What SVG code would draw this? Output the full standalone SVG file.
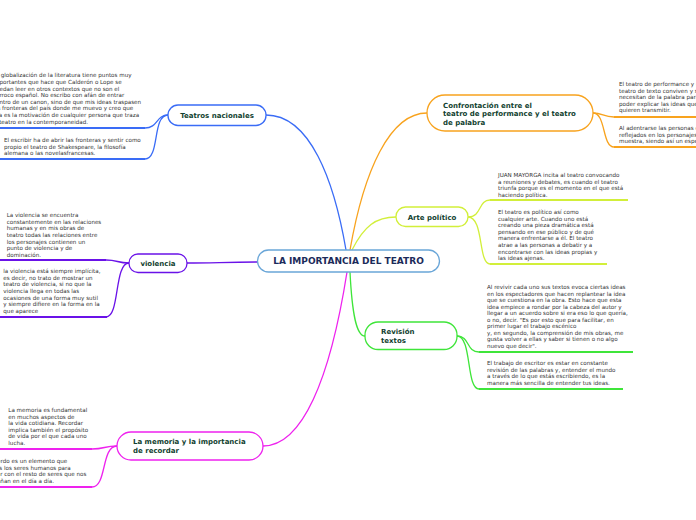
<svg xmlns="http://www.w3.org/2000/svg" width="696" height="520" viewBox="0 0 696 520">
<style>
.bg{fill:#ffffff}
.node{fill:#ffffff;stroke-width:1.3}
.lbl{font-family:"DejaVu Sans",Verdana,sans-serif;font-weight:bold;font-size:7px;fill:#123f30}
.main{font-family:"DejaVu Sans",Verdana,sans-serif;font-weight:bold;font-size:9px;fill:#1c2b5a}
.body{font-family:"DejaVu Sans",Verdana,sans-serif;font-size:5.6px;fill:#333333}
.con{fill:none;stroke-width:1.3}
.ul{fill:none;stroke-width:1.8}
.blue{stroke:#3a6cf6}
.orange{stroke:#f8a31e}
.lime{stroke:#d2ef3a}
.green{stroke:#3fe53a}
.purple{stroke:#6a12e8}
.magenta{stroke:#ee22ee}
</style>
<rect class="bg" x="0" y="0" width="696" height="520"/>

<g id="connectors">
  <path class="con blue" d="M346,250 C334,180 310,115 266,115"/>
  <path class="con orange" d="M350,250 C364,170 390,113 427,113"/>
  <path class="con lime" d="M352,250 C364,226 376,217 396,217"/>
  <path class="con purple" d="M258,262 C226,262 214,263 187,263"/>
  <path class="con green" d="M350,272 C352,312 356,336 365,336"/>
  <path class="con magenta" d="M347,272 C330,380 302,446 263,446"/>

  <path class="con blue" d="M168,115 C156,115 158,128 145,128"/>
  <path class="con blue" d="M168,115 C152,115 160,159 145,159"/>
  <path class="ul blue" d="M0,128 H145"/>
  <path class="ul blue" d="M0,159 H145"/>

  <path class="con orange" d="M593,113 C603,113 603,117 614,117"/>
  <path class="con orange" d="M593,113 C606,113 602,147 614,147"/>
  <path class="ul orange" d="M614,117 H696"/>
  <path class="ul orange" d="M614,147 H696"/>

  <path class="con lime" d="M468,217 C482,217 478,200 490,200"/>
  <path class="con lime" d="M468,217 C484,217 478,264 490,264"/>
  <path class="ul lime" d="M490,200 H628"/>
  <path class="ul lime" d="M490,264 H607"/>

  <path class="con green" d="M457,336 C470,336 466,352 479,352"/>
  <path class="con green" d="M457,336 C472,336 466,389 479,389"/>
  <path class="ul green" d="M479,352 H633"/>
  <path class="ul green" d="M479,389 H623"/>

  <path class="con purple" d="M129,263 C117,263 118,260 106,260"/>
  <path class="con purple" d="M129,263 C114,263 120,317 106,317"/>
  <path class="ul purple" d="M0,260 H106"/>
  <path class="ul purple" d="M0,317 H107"/>

  <path class="con magenta" d="M117,446 C104,446 105,449 92,449"/>
  <path class="con magenta" d="M117,446 C101,446 107,487 92,487"/>
  <path class="ul magenta" d="M0,449 H92"/>
  <path class="ul magenta" d="M0,487 H92"/>
</g>

<g id="center">
  <rect class="node" x="257.5" y="250" width="182" height="22" rx="11" stroke="#6aa6d8"/>
  <text class="main" x="348.5" y="264.3" text-anchor="middle">LA IMPORTANCIA DEL TEATRO</text>
</g>

<g id="teatros-nacionales">
  <rect class="node blue" x="168" y="105" width="98" height="20.5" rx="10"/>
  <text class="lbl" x="217" y="118" text-anchor="middle">Teatros nacionales</text>
</g>

<g id="teatros-text-1">
  <text class="body" x="-7.6">
    <tspan x="-7.6" y="77.3">La globalización de la literatura tiene puntos muy</tspan>
    <tspan x="-7.6" y="83.9">importantes que hace que Calderón o Lope se</tspan>
    <tspan x="-7.6" y="90.5">puedan leer en otros contextos que no son el</tspan>
    <tspan x="-7.6" y="97.1">barroco español. No escribo con afán de entrar</tspan>
    <tspan x="-7.6" y="103.7">dentro de un canon, sino de que mis ideas traspasen</tspan>
    <tspan x="-7.6" y="110.3">las fronteras del país donde me muevo y creo que</tspan>
    <tspan x="-7.6" y="116.9">esa es la motivación de cualquier persona que traza</tspan>
    <tspan x="-7.6" y="123.5">el teatro en la contemporaneidad.</tspan>
  </text>
</g>

<g id="teatros-text-2">
  <text class="body">
    <tspan x="4" y="142">El escribir ha de abrir las fronteras y sentir como</tspan>
    <tspan x="4" y="148.6">propio el teatro de Shakespeare, la filosofía</tspan>
    <tspan x="4" y="155.2">alemana o las novelasfrancesas.</tspan>
  </text>
</g>

<g id="confrontacion">
  <rect class="node orange" x="427" y="95" width="166" height="36" rx="18"/>
  <text class="lbl">
    <tspan x="443" y="107.5">Confrontación entre el</tspan>
    <tspan x="443" y="116">teatro de performance y el teatro</tspan>
    <tspan x="443" y="124.5">de palabra</tspan>
  </text>
</g>

<g id="confrontacion-text-1">
  <text class="body">
    <tspan x="619" y="86">El teatro de performance y el</tspan>
    <tspan x="619" y="92.6">teatro de texto conviven y se</tspan>
    <tspan x="619" y="99.2">necesitan de la palabra para</tspan>
    <tspan x="619" y="105.8">poder explicar las ideas que</tspan>
    <tspan x="619" y="112.4">quieren transmitir.</tspan>
  </text>
</g>

<g id="confrontacion-text-2">
  <text class="body">
    <tspan x="619" y="130">Al adentrarse las personas en</tspan>
    <tspan x="619" y="136.6">reflejados en los personajes</tspan>
    <tspan x="619" y="143.2">muestra, siendo así un espejo</tspan>
  </text>
</g>

<g id="arte-politico">
  <rect class="node lime" x="396" y="207" width="72" height="19.5" rx="9.5"/>
  <text class="lbl" x="432" y="220" text-anchor="middle">Arte político</text>
</g>

<g id="arte-text-1">
  <text class="body">
    <tspan x="498" y="177">JUAN MAYORGA incita al teatro convocando</tspan>
    <tspan x="498" y="183.6">a reuniones y debates, es cuando el teatro</tspan>
    <tspan x="498" y="190.2">triunfa porque es el momento en el que está</tspan>
    <tspan x="498" y="196.8">haciendo política.</tspan>
  </text>
</g>

<g id="arte-text-2">
  <text class="body">
    <tspan x="498" y="214">El teatro es político así como</tspan>
    <tspan x="498" y="220.6">cualquier arte. Cuando uno está</tspan>
    <tspan x="498" y="227.2">creando una pieza dramática está</tspan>
    <tspan x="498" y="233.8">pensando en ese público y de qué</tspan>
    <tspan x="498" y="240.4">manera enfrentarse a él. El teatro</tspan>
    <tspan x="498" y="247">atrae a las personas a debatir y a</tspan>
    <tspan x="498" y="253.6">encontrarse con las ideas propias y</tspan>
    <tspan x="498" y="260.2">las ideas ajenas.</tspan>
  </text>
</g>

<g id="revision">
  <rect class="node green" x="365" y="322" width="92" height="27.5" rx="13"/>
  <text class="lbl">
    <tspan x="381" y="334">Revisión</tspan>
    <tspan x="381" y="342.5">textos</tspan>
  </text>
</g>

<g id="revision-text-1">
  <text class="body">
    <tspan x="487" y="289">Al revivir cada uno sus textos evoca ciertas ideas</tspan>
    <tspan x="487" y="295.55">en los espectadores que hacen replantear  la idea</tspan>
    <tspan x="487" y="302.1">que se cuestiona en la obra. Esto hace que esta</tspan>
    <tspan x="487" y="308.65">idea empiece a rondar por la cabeza del autor y</tspan>
    <tspan x="487" y="315.2">llegar a un acuerdo sobre si era eso lo que quería,</tspan>
    <tspan x="487" y="321.75">o no, decir. "Es por esto que para facilitar, en</tspan>
    <tspan x="487" y="328.3">primer lugar el trabajo escénico</tspan>
    <tspan x="487" y="334.85">y, en segundo, la comprensión de mis obras, me</tspan>
    <tspan x="487" y="341.4">gusta volver a ellas y saber si tienen o no algo</tspan>
    <tspan x="487" y="347.95">nuevo que decir".</tspan>
  </text>
</g>

<g id="revision-text-2">
  <text class="body">
    <tspan x="487" y="365">El trabajo de escritor es estar en constante</tspan>
    <tspan x="487" y="371.6">revisión de las palabras y, entender el mundo</tspan>
    <tspan x="487" y="378.2">a través de lo que estás escribiendo, es la</tspan>
    <tspan x="487" y="384.8">manera más sencilla de entender tus ideas.</tspan>
  </text>
</g>

<g id="violencia">
  <rect class="node purple" x="129" y="254" width="58" height="18.5" rx="9"/>
  <text class="lbl" x="158" y="266" text-anchor="middle">violencia</text>
</g>

<g id="violencia-text-1">
  <text class="body">
    <tspan x="6.7" y="217">La violencia se encuentra</tspan>
    <tspan x="6.7" y="223.65">constantemente en las relaciones</tspan>
    <tspan x="6.7" y="230.3">humanas y en mis obras de</tspan>
    <tspan x="6.7" y="236.95">teatro todas las relaciones entre</tspan>
    <tspan x="6.7" y="243.6">los personajes contienen un</tspan>
    <tspan x="6.7" y="250.25">punto de violencia y de</tspan>
    <tspan x="6.7" y="256.9">dominación.</tspan>
  </text>
</g>

<g id="violencia-text-2">
  <text class="body">
    <tspan x="3.3" y="273">la violencia está siempre implícita,</tspan>
    <tspan x="3.3" y="279.65">es decir, no trato de mostrar un</tspan>
    <tspan x="3.3" y="286.3">teatro de violencia, si no que la</tspan>
    <tspan x="3.3" y="292.95">violencia llega en todas las</tspan>
    <tspan x="3.3" y="299.6">ocasiones de una forma muy sutil</tspan>
    <tspan x="3.3" y="306.25">y siempre difiere en la forma en la</tspan>
    <tspan x="3.3" y="312.9">que aparece</tspan>
  </text>
</g>

<g id="memoria">
  <rect class="node magenta" x="117" y="432" width="146" height="28" rx="14"/>
  <text class="lbl">
    <tspan x="133" y="444">La memoria y la importancia</tspan>
    <tspan x="133" y="453">de recordar</tspan>
  </text>
</g>

<g id="memoria-text-1">
  <text class="body">
    <tspan x="8.3" y="412">La memoria es fundamental</tspan>
    <tspan x="8.3" y="418.6">en muchos aspectos de</tspan>
    <tspan x="8.3" y="425.2">la vida cotidiana. Recordar</tspan>
    <tspan x="8.3" y="431.8">implica también el propósito</tspan>
    <tspan x="8.3" y="438.4">de vida por el que cada uno</tspan>
    <tspan x="8.3" y="445">lucha.</tspan>
  </text>
</g>

<g id="memoria-text-2">
  <text class="body">
    <tspan x="-22" y="463">El recuerdo es un elemento que</tspan>
    <tspan x="-22" y="469.6">en todos los seres humanos para</tspan>
    <tspan x="-22" y="476.2">conectar con el resto de seres que nos</tspan>
    <tspan x="-22" y="482.8">acompañan en el día a día.</tspan>
  </text>
</g>
</svg>
